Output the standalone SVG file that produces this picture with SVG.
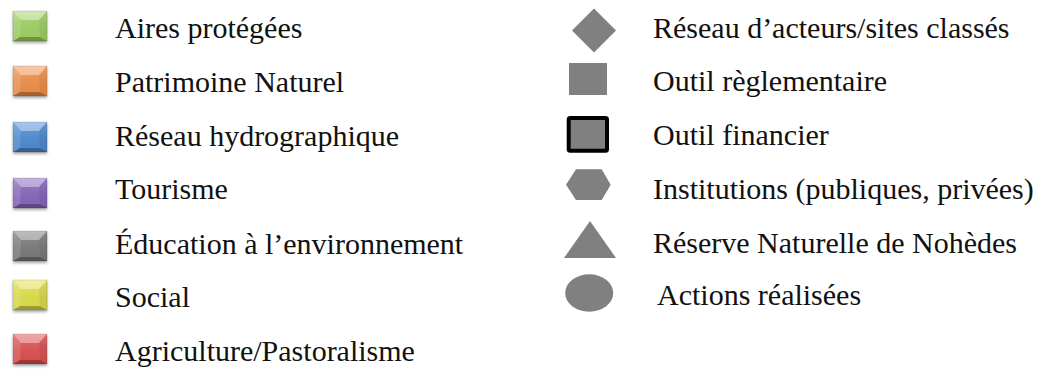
<svg xmlns="http://www.w3.org/2000/svg" xmlns:xlink="http://www.w3.org/1999/xlink" width="1045" height="370" viewBox="0 0 1045 370">
<style>
  .t { font-family: "Liberation Serif", "Times New Roman", serif; font-size: 30px; fill: #111; }
  .shape { fill: #808080; }
</style>
<defs>
  <filter id="blur" x="-30%" y="-30%" width="160%" height="160%">
    <feGaussianBlur stdDeviation="1.4"/>
  </filter>
  <linearGradient id="face" x1="0" y1="0" x2="0" y2="1">
    <stop offset="0" stop-color="#fff" stop-opacity="0.18"/>
    <stop offset="1" stop-color="#000" stop-opacity="0.05"/>
  </linearGradient>
  <symbol id="sw" viewBox="0 0 40 38" width="40" height="38" overflow="visible">
    <rect x="3" y="5" width="34" height="30" fill="#000" opacity="0.35" filter="url(#blur)"/>
    <rect x="3" y="3" width="34" height="30" fill="currentColor"/>
    <rect x="3" y="3" width="34" height="30" fill="url(#face)"/>
    <polygon points="3,3 37,3 29,12 11,12" fill="#fff" opacity="0.38"/>
    <polygon points="3,3 11,12 10,29 3,33" fill="#fff" opacity="0.12"/>
    <polygon points="37,3 29,12 30,29 37,33" fill="#000" opacity="0.06"/>
    <polygon points="3,33 10,29 30,29 37,33" fill="#000" opacity="0.28"/>
    <rect x="3" y="3" width="34" height="30" fill="none" stroke="#000" stroke-opacity="0.15" stroke-width="0.8"/>
  </symbol>
</defs>

<g id="legend-left">
  <g id="aires-protegees">
    <use xlink:href="#sw" href="#sw" x="10" y="8" color="#a3d665"/>
    <text class="t" x="115" y="38">Aires protégées</text>
  </g>
  <g id="patrimoine-naturel">
    <use xlink:href="#sw" href="#sw" x="10" y="63" color="#f5934a"/>
    <text class="t" x="115" y="91.5">Patrimoine Naturel</text>
  </g>
  <g id="reseau-hydrographique">
    <use xlink:href="#sw" href="#sw" x="10" y="119" color="#4f8ed8"/>
    <text class="t" x="115" y="145.5">Réseau hydrographique</text>
  </g>
  <g id="tourisme">
    <use xlink:href="#sw" href="#sw" x="10" y="175" color="#8a68c0"/>
    <text class="t" x="115" y="199">Tourisme</text>
  </g>
  <g id="education">
    <use xlink:href="#sw" href="#sw" x="10" y="228" color="#7d7d7d"/>
    <text class="t" x="115" y="254">Éducation à l’environnement</text>
  </g>
  <g id="social">
    <use xlink:href="#sw" href="#sw" x="10" y="277" color="#e4e44c"/>
    <text class="t" x="115" y="306.5">Social</text>
  </g>
  <g id="agriculture">
    <use xlink:href="#sw" href="#sw" x="10" y="331" color="#e25252"/>
    <text class="t" x="115" y="361">Agriculture/Pastoralisme</text>
  </g>
</g>

<g id="legend-right">
  <g id="reseau-acteurs">
    <polygon class="shape" points="594,8.5 616,30.5 594,52.5 572,30.5"/>
    <text class="t" x="653" y="38">Réseau d’acteurs/sites classés</text>
  </g>
  <g id="outil-reglementaire">
    <rect class="shape" x="569" y="63" width="38" height="32"/>
    <text class="t" x="653" y="91">Outil règlementaire</text>
  </g>
  <g id="outil-financier">
    <rect class="shape" x="568.7" y="118" width="38.3" height="32.7" rx="1.5" stroke="#000" stroke-width="4"/>
    <text class="t" x="653" y="145">Outil financier</text>
  </g>
  <g id="institutions">
    <polygon class="shape" points="566,184.7 576,169.3 601.7,169.3 610.7,184.7 601.7,200 576,200"/>
    <text class="t" x="653" y="199.3">Institutions (publiques, privées)</text>
  </g>
  <g id="reserve-nohedes">
    <polygon class="shape" points="590,221 616,258 564,258"/>
    <text class="t" x="653" y="253.3">Réserve Naturelle de Nohèdes</text>
  </g>
  <g id="actions-realisees">
    <ellipse class="shape" cx="589.2" cy="293" rx="24" ry="18.7"/>
    <text class="t" x="657" y="305">Actions réalisées</text>
  </g>
</g>
</svg>
